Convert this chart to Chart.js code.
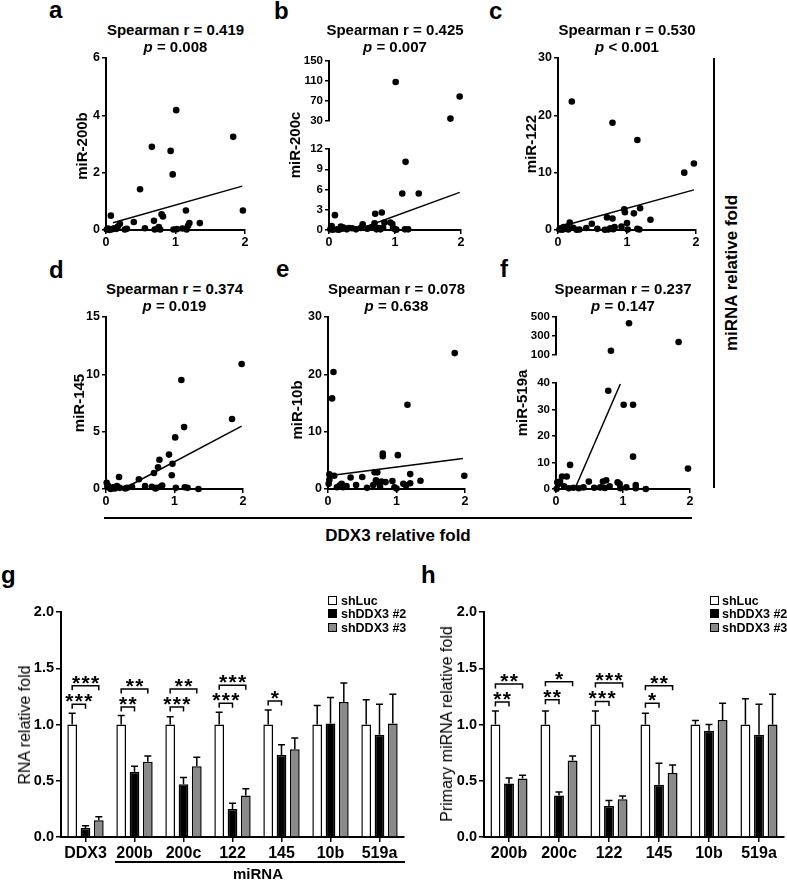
<!DOCTYPE html>
<html><head><meta charset="utf-8">
<script src="https://cdn.jsdelivr.net/npm/chart.js@4.4.0/dist/chart.umd.min.js"></script>
<style>
html,body{margin:0;padding:0;background:#fff;}
body{width:787px;height:881px;position:relative;overflow:hidden;font-family:"Liberation Sans",Arial,sans-serif;color:#000;}
canvas{position:absolute;}
.t{position:absolute;white-space:nowrap;line-height:1;}
.ln{position:absolute;background:#000;}
.lg{position:absolute;width:7px;height:7px;border:1.5px solid #000;}
</style></head><body>
<script>
// ---------- scatter data (DDX3 relative fold, miRNA relative fold) ----------
const aPoints = [[0.01,0.02],[0.03,0.05],[0.05,0.0],[0.07,0.5],[0.09,0.03],[0.12,0.06],[0.15,0.04],[0.17,0.12],[0.2,0.22],[0.27,0.02],[0.3,0.04],[0.4,0.28],[0.49,1.42],[0.56,0.06],[0.66,2.9],[0.69,0.32],[0.7,0.02],[0.74,0.04],[0.76,0.1],[0.78,0.02],[0.8,0.55],[0.82,0.47],[0.93,2.76],[0.96,1.94],[0.97,0.02],[1.01,4.18],[1.02,0.03],[1.1,0.05],[1.15,0.68],[1.16,0.02],[1.18,0.15],[1.2,0.24],[1.35,0.24],[1.83,3.25],[1.97,0.68]];
const aFit = [[0.1,0.25],[1.96,1.53]];
const bPointsLow = [[0.02,0.1],[0.04,0.6],[0.06,0.05],[0.09,2.2],[0.12,0.1],[0.15,0.05],[0.18,0.5],[0.2,0.2],[0.22,0.35],[0.27,0.1],[0.3,0.3],[0.35,0.25],[0.41,0.1],[0.48,0.3],[0.51,0.85],[0.58,0.2],[0.65,0.4],[0.69,1.0],[0.7,2.4],[0.72,0.1],[0.75,0.3],[0.78,0.1],[0.8,2.6],[0.82,0.35],[0.84,1.1],[0.93,1.1],[0.96,0.9],[0.97,0.3],[1.0,0.1],[1.02,0.05],[1.11,5.4],[1.16,10.1],[1.15,0.1],[1.2,0.1],[1.36,5.4]];
const bPointsHigh = [[1.01,108],[1.98,79],[1.84,35]];
const bFit = [[0.42,0],[1.98,5.58]];
const cPoints = [[0.02,0.1],[0.04,0.3],[0.06,0.05],[0.08,0.5],[0.1,0.2],[0.13,0.6],[0.15,0.1],[0.17,1.3],[0.2,22.4],[0.22,0.4],[0.27,0.05],[0.31,0.1],[0.41,0.35],[0.49,1.1],[0.57,0.2],[0.68,0.05],[0.71,2.2],[0.73,0.1],[0.76,0.3],[0.79,18.7],[0.79,2.0],[0.8,0.15],[0.82,0.5],[0.92,0.6],[0.96,3.6],[0.97,3.1],[1.0,1.2],[1.01,0.1],[1.1,2.9],[1.15,15.7],[1.15,0.2],[1.18,0.1],[1.19,3.8],[1.34,1.8],[1.83,10.0],[1.97,11.6]];
const cFit = [[0.12,0.87],[1.97,7.0]];
const dPoints = [[0.01,0.55],[0.02,0.2],[0.03,0.3],[0.05,0.1],[0.07,0.0],[0.1,0.15],[0.13,0.05],[0.16,0.25],[0.19,1.05],[0.2,0.1],[0.28,0.05],[0.31,0.1],[0.38,0.2],[0.48,0.85],[0.57,0.26],[0.67,0.2],[0.7,1.4],[0.72,0.05],[0.74,0.1],[0.76,1.9],[0.78,2.55],[0.8,0.2],[0.82,0.3],[0.92,3.0],[0.96,1.2],[0.97,2.2],[1.01,4.5],[1.02,0.1],[1.1,9.5],[1.14,5.4],[1.15,0.15],[1.19,0.1],[1.35,0.0],[1.84,6.1],[1.98,10.9]];
const dFit = [[0.25,0],[1.98,5.48]];
const ePoints = [[0.01,0.9],[0.02,2.55],[0.02,1.6],[0.06,15.8],[0.08,20.4],[0.09,2.3],[0.13,0.3],[0.17,0.6],[0.2,0.9],[0.22,0.3],[0.27,0.5],[0.33,2.0],[0.41,0.7],[0.5,2.1],[0.57,0.2],[0.66,0.7],[0.68,2.9],[0.72,2.9],[0.7,1.5],[0.74,1.1],[0.76,0.4],[0.78,1.3],[0.8,6.2],[0.8,5.7],[0.84,1.2],[0.94,1.4],[0.97,0.3],[1.0,0.1],[1.02,5.9],[1.1,0.9],[1.14,0.6],[1.16,14.7],[1.2,2.6],[1.2,1.0],[1.35,1.45],[1.85,23.7],[1.99,2.3]];
const eFit = [[0.01,2.3],[1.97,5.34]];
const fPointsLow = [[0.01,0.1],[0.02,2.5],[0.04,2.0],[0.06,2.8],[0.09,4.7],[0.12,1.0],[0.16,4.7],[0.19,0.3],[0.21,9.1],[0.26,0.5],[0.34,0.3],[0.41,0.6],[0.49,2.8],[0.57,0.5],[0.66,0.6],[0.7,2.8],[0.73,0.4],[0.75,3.3],[0.78,37.1],[0.8,1.0],[0.92,2.5],[0.95,1.9],[0.96,0.3],[1.01,31.8],[1.05,0.6],[1.15,31.8],[1.15,12.2],[1.19,1.5],[1.19,0.3],[1.34,0],[1.97,7.7]];
const fPointsHigh = [[1.09,435],[1.83,238],[0.82,145]];
const fFit = [[0.28,0],[0.96,39.6]];

// ---------- bar data ----------
const seriesNames = ['shLuc','shDDX3 #2','shDDX3 #3'];
const gCategories = ['DDX3','200b','200c','122','145','10b','519a'];
const gShLuc   = [1.00,1.00,1.00,1.00,1.00,1.00,1.00];
const gShDDX3_2 = [0.08,0.58,0.47,0.25,0.73,1.01,0.91];
const gShDDX3_3 = [0.15,0.67,0.63,0.37,0.78,1.20,1.01];
const gSemLuc  = [0.10,0.08,0.07,0.11,0.13,0.17,0.22];
const gSem2    = [0.02,0.05,0.06,0.05,0.09,0.23,0.27];
const gSem3    = [0.03,0.05,0.08,0.06,0.10,0.17,0.26];
const gBrackets = [[0,1,1.18,'***'],[0,2,1.345,'***'],[1,1,1.155,'**'],[1,2,1.315,'**'],[2,1,1.155,'***'],[2,2,1.315,'**'],[3,1,1.19,'***'],[3,2,1.35,'***'],[4,1,1.21,'*']];
const hCategories = ['200b','200c','122','145','10b','519a'];
const hShLuc   = [1.00,1.00,1.00,1.00,1.00,1.00];
const hShDDX3_2 = [0.475,0.37,0.275,0.465,0.945,0.91];
const hShDDX3_3 = [0.52,0.68,0.335,0.57,1.04,1.00];
const hSemLuc  = [0.12,0.12,0.12,0.10,0.035,0.23];
const hSem2    = [0.05,0.03,0.05,0.19,0.055,0.27];
const hSem3    = [0.03,0.04,0.03,0.07,0.15,0.27];
const hBrackets = [[0,1,1.20,'**'],[0,2,1.36,'**'],[1,1,1.22,'**'],[1,2,1.38,'*'],[2,1,1.205,'***'],[2,2,1.37,'***'],[3,1,1.19,'*'],[3,2,1.345,'**']];

const FONT = '"Liberation Sans", Arial, sans-serif';
Chart.defaults.font.family = FONT;
Chart.defaults.color = '#000';

function place(rect, cfg, o) {
  const YW=o.yw, PT=o.pt, PR=o.pr, XH=o.xh;
  const c = document.createElement('canvas');
  const W = rect.r-rect.l+YW+PR, H = rect.b-rect.t+PT+XH;
  c.width=W; c.height=H; c.style.width=W+'px'; c.style.height=H+'px';
  c.style.left=(rect.l-YW)+'px'; c.style.top=(rect.t-PT)+'px';
  document.body.appendChild(c);
  cfg.options.layout={padding:{left:0,top:PT,right:PR,bottom:0}};
  cfg.options.scales.y.afterFit = s => { s.width = YW; };
  if (cfg.options.scales.x.display !== false) cfg.options.scales.x.afterFit = s => { s.height = XH; };
  const ch = new Chart(c, cfg);
  const a = ch.chartArea;
  c.style.left=(rect.l-a.left)+'px'; c.style.top=(rect.t-a.top)+'px';
  return ch;
}
const axisGrid = {display:true, drawOnChartArea:false, drawTicks:true, tickLength:4, color:'#000', lineWidth:1.5};
const axisBorder = {display:true, color:'#000', width:2};

function scatter(rect, pts, fit, ymin, ymax, ystep, showX, tfs) {
  const ds=[{type:'scatter', data:pts.map(p=>({x:p[0],y:p[1]})), pointRadius:3.3, pointBackgroundColor:'#000', pointBorderWidth:0, clip:false, order:2}];
  if (fit) ds.push({type:'line', data:fit.map(p=>({x:p[0],y:p[1]})), borderColor:'#000', borderWidth:1.5, pointRadius:0, fill:false, clip:false, order:1});
  const cfg={type:'scatter', data:{datasets:ds}, options:{responsive:false, animation:false, devicePixelRatio:1,
    plugins:{legend:{display:false}, tooltip:{enabled:false}},
    scales:{
      x:{type:'linear', min:0, max:2, display:showX, ticks:{stepSize:1, font:{size:12.5,weight:'bold'}, padding:1, color:'#000'}, grid:axisGrid, border:axisBorder},
      y:{type:'linear', min:ymin, max:ymax, ticks:{stepSize:ystep, font:{size:tfs,weight:'bold'}, padding:2, color:'#000'}, grid:axisGrid, border:axisBorder}
    }}};
  return place(rect, cfg, {yw:40, pt:10, pr:12, xh: showX?20:0});
}

function barChart(rect, cats, vals, sems, brackets) {
  const fills=['#ffffff','#000000','#8a8a8a'];
  const plug={id:'errbr', afterDatasetsDraw(chart){
    const ctx=chart.ctx, ys=chart.scales.y;
    ctx.save(); ctx.strokeStyle='#000'; ctx.lineWidth=1.5;
    for(let d=0; d<3; d++){
      const meta=chart.getDatasetMeta(d);
      meta.data.forEach((el,i)=>{
        const y0=ys.getPixelForValue(vals[d][i]), y1=ys.getPixelForValue(vals[d][i]+sems[d][i]);
        ctx.beginPath(); ctx.moveTo(el.x,y0); ctx.lineTo(el.x,y1); ctx.moveTo(el.x-3.5,y1); ctx.lineTo(el.x+3.5,y1); ctx.stroke();
      });
    }
    ctx.fillStyle='#000'; ctx.textAlign='center'; ctx.textBaseline='alphabetic';
    ctx.font='bold 21px '+FONT;
    brackets.forEach(b=>{
      const x1=chart.getDatasetMeta(0).data[b[0]].x, x2=chart.getDatasetMeta(b[1]).data[b[0]].x;
      const py=ys.getPixelForValue(b[2]);
      ctx.beginPath(); ctx.moveTo(x1,py+4.5); ctx.lineTo(x1,py); ctx.lineTo(x2,py); ctx.lineTo(x2,py+4.5); ctx.stroke();
      const n=b[3].length, sp=9.5, cx=(x1+x2)/2;
      for(let k=0;k<n;k++) ctx.fillText('*', cx+(k-(n-1)/2)*sp, py+4);
    });
    ctx.restore();
  }};
  const cfg={type:'bar', data:{labels:cats, datasets:vals.map((v,d)=>({label:seriesNames[d], data:v, backgroundColor:fills[d], borderColor:'#000', borderWidth:1.5, categoryPercentage:0.815, barPercentage:0.73}))},
    plugins:[plug],
    options:{responsive:false, animation:false, devicePixelRatio:1,
      plugins:{legend:{display:false}, tooltip:{enabled:false}},
      scales:{
        x:{ticks:{font:{size:16,weight:'bold'}, padding:2, color:'#000'}, grid:{display:true, offset:false, drawOnChartArea:false, drawTicks:true, tickLength:5, color:'#000', lineWidth:1.5}, border:axisBorder},
        y:{min:0, max:2, ticks:{stepSize:0.5, font:{size:14.5,weight:'bold'}, padding:2, color:'#000', callback:v=>v.toFixed(1)}, grid:{display:true, drawOnChartArea:false, drawTicks:true, tickLength:5, color:'#000', lineWidth:1.5}, border:axisBorder}
      }}};
  return place(rect, cfg, {yw:50, pt:12, pr:3, xh:28});
}

// ---------- draw charts ----------
scatter({l:106,r:245,t:58,b:230}, aPoints, aFit, 0, 6, 2, true, 12.5);
scatter({l:329,r:461,t:61,b:130}, bPointsHigh, null, 30, 150, 40, false, 11.5);
scatter({l:329,r:461,t:149,b:230}, bPointsLow, bFit, 0, 12, 3, true, 11.5);
scatter({l:558,r:696,t:58,b:230}, cPoints, cFit, 0, 30, 10, true, 12.5);
scatter({l:106,r:243,t:317,b:489}, dPoints, dFit, 0, 15, 5, true, 12.5);
scatter({l:328,r:465,t:317,b:489}, ePoints, eFit, 0, 30, 10, true, 12.5);
scatter({l:556,r:690,t:317,b:364}, fPointsHigh, null, 100, 500, 200, false, 11.5);
scatter({l:556,r:690,t:383,b:489}, fPointsLow, fFit, 0, 40, 10, true, 11.5);

barChart({l:61,r:404,t:612,b:837}, gCategories, [gShLuc,gShDDX3_2,gShDDX3_3], [gSemLuc,gSem2,gSem3], gBrackets);
barChart({l:484,r:784,t:612,b:837}, hCategories, [hShLuc,hShDDX3_2,hShDDX3_3], [hSemLuc,hSem2,hSem3], hBrackets);

// ---------- text & decorations ----------
function T(html, x, base, fs, o={}) {
  const d=document.createElement('div'); d.className='t'; d.innerHTML=html;
  d.style.fontSize=fs+'px'; d.style.fontWeight=o.w||'bold';
  d.style.left=x+'px';
  if(o.rot){ d.style.top=base+'px'; d.style.transform='translate(-50%,-50%) rotate(-90deg)'; }
  else { d.style.top=(base-0.8465*fs)+'px'; if(!o.left) d.style.transform='translateX(-50%)'; }
  document.body.appendChild(d);
}
function L(x,y,w,h){const d=document.createElement('div'); d.className='ln'; Object.assign(d.style,{left:x+'px',top:y+'px',width:w+'px',height:h+'px'}); document.body.appendChild(d);}

T('a',49,18.5,24,{left:1}); T('b',274,19.5,24,{left:1}); T('c',489,19.5,24,{left:1});
T('d',49,278,24,{left:1}); T('e',276,277,24,{left:1}); T('f',500,277,24,{left:1});
T('g',1,583,24,{left:1}); T('h',421,583,24,{left:1});

const titles=[['0.419','= 0.008',175.5,35],['0.425','= 0.007',395,35],['0.530','&lt; 0.001',627,35],['0.374','= 0.019',174.5,293.5],['0.078','= 0.638',396.5,293.5],['0.237','= 0.147',623,293.5]];
titles.forEach(t=>{ T('Spearman r = '+t[0], t[2], t[3], 15); T('<i>p</i> '+t[1], t[2], t[3]+17, 15); });

T('miR-200b',80.5,146,15,{rot:1}); T('miR-200c',293.5,145,15,{rot:1}); T('miR-122',530,144,15,{rot:1});
T('miR-145',78,403,15,{rot:1}); T('miR-10b',296,410,15,{rot:1}); T('miR-519a',521,403,15,{rot:1});

L(713,58,2,430); T('miRNA relative fold',731,273,17,{rot:1});
L(104,517,588,2); T('DDX3 relative fold',398,541,17);

T('RNA relative fold',25,725,16,{rot:1,w:'normal'});
T('Primary miRNA relative fold',446.5,724,16,{rot:1,w:'normal'});
L(115,861,290,1.5); T('miRNA',258,879,15);

function legend(bx, tx) {
  const fills=['#ffffff','#000000','#8a8a8a'];
  seriesNames.forEach((n,i)=>{
    const y=596+i*13.3;
    const d=document.createElement('div'); d.className='lg'; d.style.left=bx+'px'; d.style.top=y+'px'; d.style.background=fills[i]; document.body.appendChild(d);
    T(n, tx, y+9.5, 12.5, {left:1});
  });
}
legend(328,341); legend(710,722);
</script>
</body></html>
